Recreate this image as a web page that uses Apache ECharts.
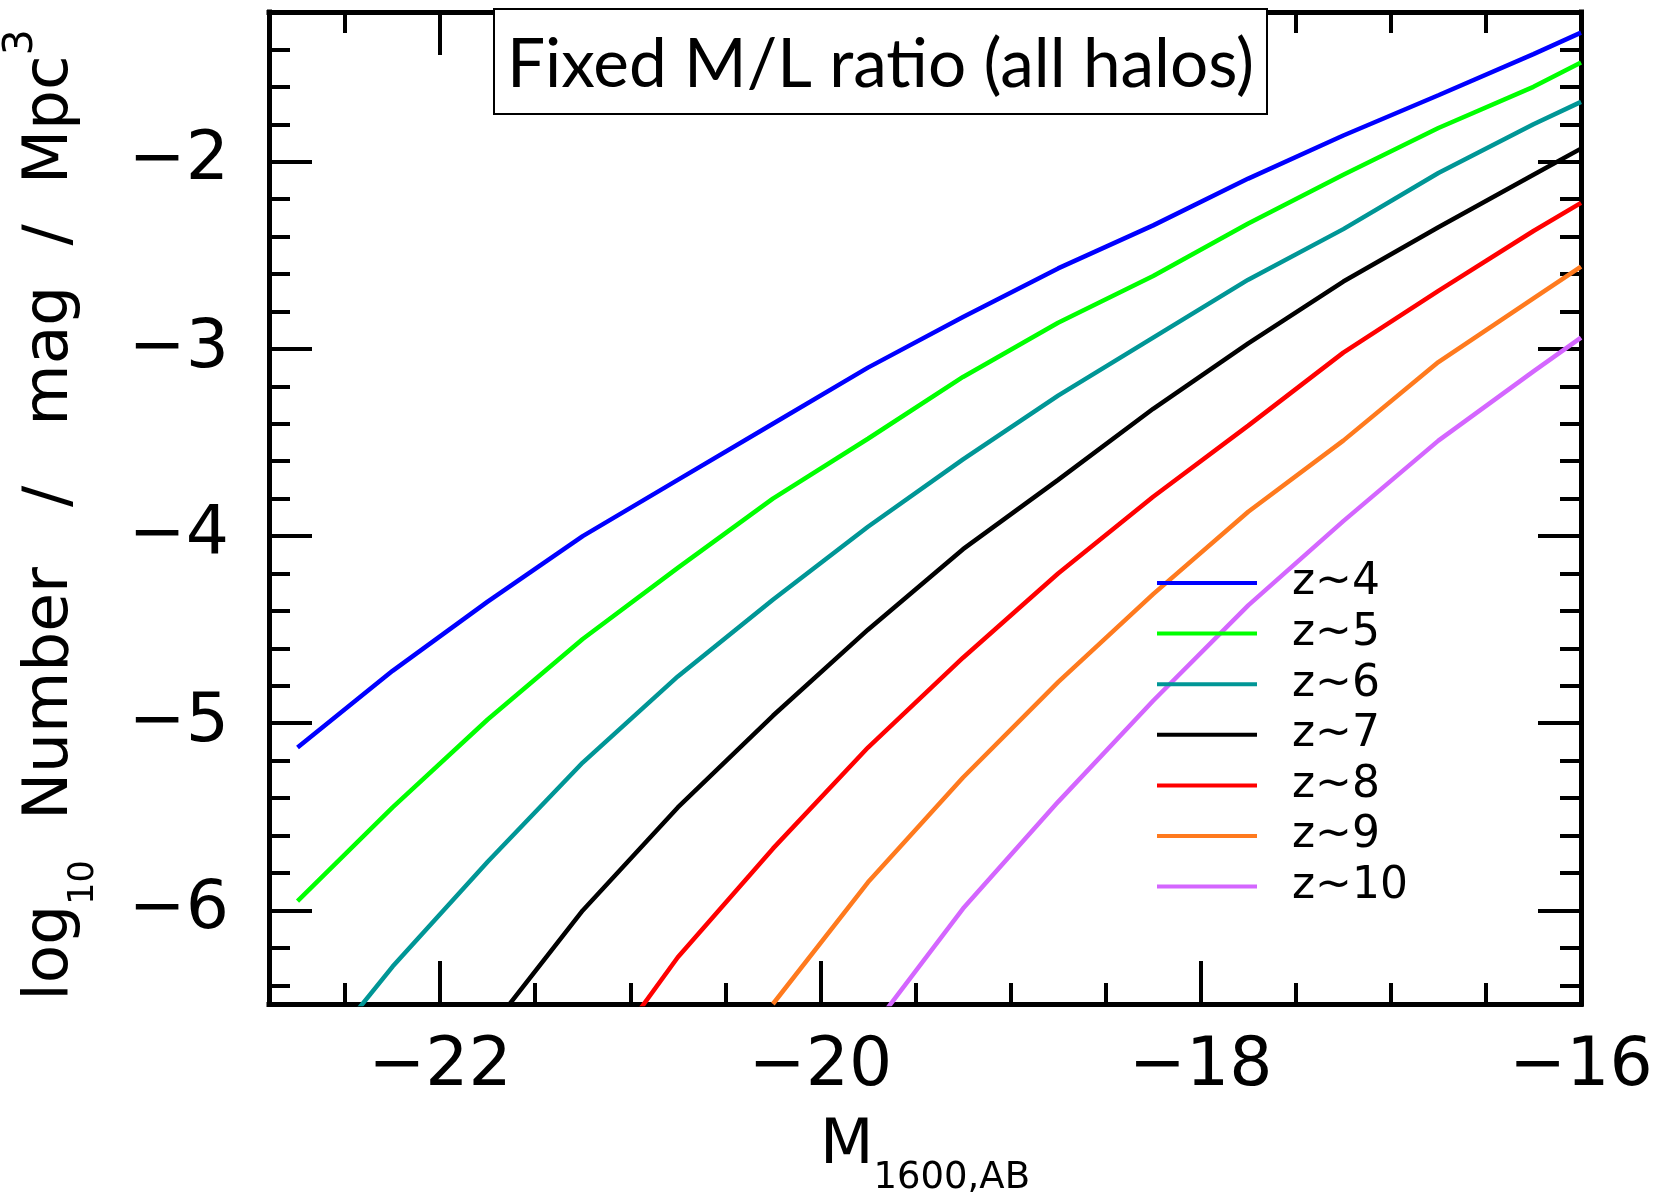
<!DOCTYPE html>
<html><head><meta charset="utf-8">
<script src="https://cdn.jsdelivr.net/npm/echarts@6/dist/echarts.min.js"></script>
<style>html,body{margin:0;padding:0;background:#fff}#chart{width:1656px;height:1197px}</style>
</head><body><div id="chart"></div>
<script>
// ---- data ----
const mags = [-22.75, -22.25, -21.75, -21.25, -20.75, -20.25, -19.75, -19.25, -18.75, -18.25, -17.75, -17.25, -16.75, -16.25, -16];
const seriesNames = ['z~4', 'z~5', 'z~6', 'z~7', 'z~8', 'z~9', 'z~10'];
const seriesColors = ['#0000ff', '#00ff00', '#009696', '#000000', '#ff0000', '#ff7a1e', '#d466ff'];
const z4  = [-5.13, -4.72, -4.35, -4.00, -3.70, -3.40, -3.10, -2.83, -2.57, -2.34, -2.09, -1.86, -1.645, -1.425, -1.31];
const z5  = [-5.95, -5.45, -4.98, -4.55, -4.17, -3.80, -3.48, -3.15, -2.86, -2.61, -2.33, -2.07, -1.82, -1.60, -1.47];
const z6  = [-6.93, -6.30, -5.74, -5.21, -4.75, -4.34, -3.95, -3.59, -3.25, -2.94, -2.63, -2.36, -2.06, -1.80, -1.68];
const z7  = [null, null, -6.65, -6.00, -5.45, -4.96, -4.50, -4.07, -3.70, -3.32, -2.97, -2.64, -2.35, -2.07, -1.93];
const z8  = [null, null, null, -6.95, -6.25, -5.67, -5.13, -4.65, -4.20, -3.79, -3.41, -3.02, -2.69, -2.37, -2.22];
const z9  = [null, null, null, null, null, -6.50, -5.85, -5.29, -4.78, -4.31, -3.87, -3.49, -3.07, -2.73, -2.56];
const z10 = [null, null, null, null, null, null, -6.66, -5.99, -5.42, -4.88, -4.37, -3.92, -3.49, -3.12, -2.94];
const seriesValues = [z4, z5, z6, z7, z8, z9, z10];

const xMajorTicks = [-22, -20, -18, -16];
const xMinorTicks = [-22.5, -21.5, -21, -20.5, -19.5, -19, -18.5, -17.5, -17, -16.5];
const yMajorTicks = [-6, -5, -4, -3, -2];
const yMinorTicks = [-6.4, -6.2, -5.8, -5.6, -5.4, -5.2, -4.8, -4.6, -4.4, -4.2, -3.8, -3.6, -3.4, -3.2, -2.8, -2.6, -2.4, -2.2, -1.8, -1.6, -1.4];
const titleText = 'Fixed M/L ratio (all halos)';

// ---- chart ----
const FONT = 'DejaVu Sans';
const X_MIN = -22.9, X_MAX = -16, Y_MIN = -6.5, Y_MAX = -1.2;
const fmt = v => (v < 0 ? '\u2212' : '') + Math.abs(v);

function axis(kind, pos, ticks, len, showLine, label) {
  return {
    type: 'value', position: pos, offset: 0,
    min: kind === 'x' ? X_MIN : Y_MIN, max: kind === 'x' ? X_MAX : Y_MAX,
    axisLine: { show: showLine, onZero: false, lineStyle: { color: '#000', width: 5, cap: 'square' } },
    axisTick: { show: true, inside: true, length: len, customValues: ticks, lineStyle: { color: '#000', width: 4 } },
    axisLabel: label ? Object.assign({ show: true, customValues: ticks, formatter: fmt, fontFamily: FONT, fontSize: 68, color: '#000' }, label) : { show: false },
    splitLine: { show: false }, minorTick: { show: false }
  };
}

const xMain = axis('x', 'bottom', xMajorTicks, 43, true, { margin: 29 });
xMain.name = '{m|M}{s|1600,AB}';
xMain.nameLocation = 'middle';
xMain.nameGap = 93;
xMain.nameTextStyle = {
  color: '#000',
  rich: {
    m: { fontFamily: FONT, fontSize: 62, lineHeight: 100, verticalAlign: 'middle', color: '#000' },
    s: { fontFamily: FONT, fontSize: 37, lineHeight: 43, verticalAlign: 'bottom', color: '#000' }
  }
};

const yMain = axis('y', 'left', yMajorTicks, 43, true, { margin: 40 });
yMain.name = '{n|log}{sub|10}{n|  Number   /   mag  /  Mpc}{sup|3}';
yMain.nameLocation = 'middle';
yMain.nameGap = 168;
yMain.nameTextStyle = {
  color: '#000',
  rich: {
    n: { fontFamily: FONT, fontSize: 63, lineHeight: 100, verticalAlign: 'middle', color: '#000' },
    sub: { fontFamily: FONT, fontSize: 35, lineHeight: 36, verticalAlign: 'bottom', color: '#000' },
    sup: { fontFamily: FONT, fontSize: 41, lineHeight: 78, verticalAlign: 'top', color: '#000', padding: [0, 14, 0, 0] }
  }
};

const option = {
  animation: false,
  backgroundColor: '#fff',
  grid: { left: 269, top: 12, width: 1312, height: 992, containLabel: false, outerBoundsMode: 'none' },
  title: {
    text: titleText, left: 494, top: 9,
    padding: [22, 13, 15, 13], borderWidth: 2, borderColor: '#000', backgroundColor: '#fff',
    textStyle: { fontFamily: 'Lato', fontSize: 67.5, fontWeight: 'normal', lineHeight: 67.5, color: '#000' }
  },
  legend: {
    orient: 'vertical', left: 1157, top: 561, padding: 0,
    itemWidth: 100, itemHeight: 4, itemGap: 6.6, icon: 'rect', selectedMode: false,
    data: seriesNames,
    textStyle: { fontFamily: FONT, fontSize: 44, lineHeight: 44, fontWeight: 'normal', color: '#000', padding: [0, 0, 0, 30] }
  },
  xAxis: [
    xMain,
    axis('x', 'bottom', xMinorTicks, 21, false, null),
    axis('x', 'top', xMajorTicks, 43, true, null),
    axis('x', 'top', xMinorTicks, 21, false, null)
  ],
  yAxis: [
    yMain,
    axis('y', 'left', yMinorTicks, 21, false, null),
    axis('y', 'right', yMajorTicks, 43, true, null),
    axis('y', 'right', yMinorTicks, 21, false, null)
  ],
  series: seriesNames.map((name, i) => ({
    type: 'line', name, xAxisIndex: 0, yAxisIndex: 0,
    data: mags.map((m, j) => [m, seriesValues[i][j]]),
    showSymbol: false, symbol: 'none', clip: true, z: 2,
    lineStyle: { width: 4.5, color: seriesColors[i] },
    itemStyle: { color: seriesColors[i] }
  }))
};

const chart = echarts.init(document.getElementById('chart'), null, { renderer: 'canvas' });
chart.setOption(option);
</script></body></html>
